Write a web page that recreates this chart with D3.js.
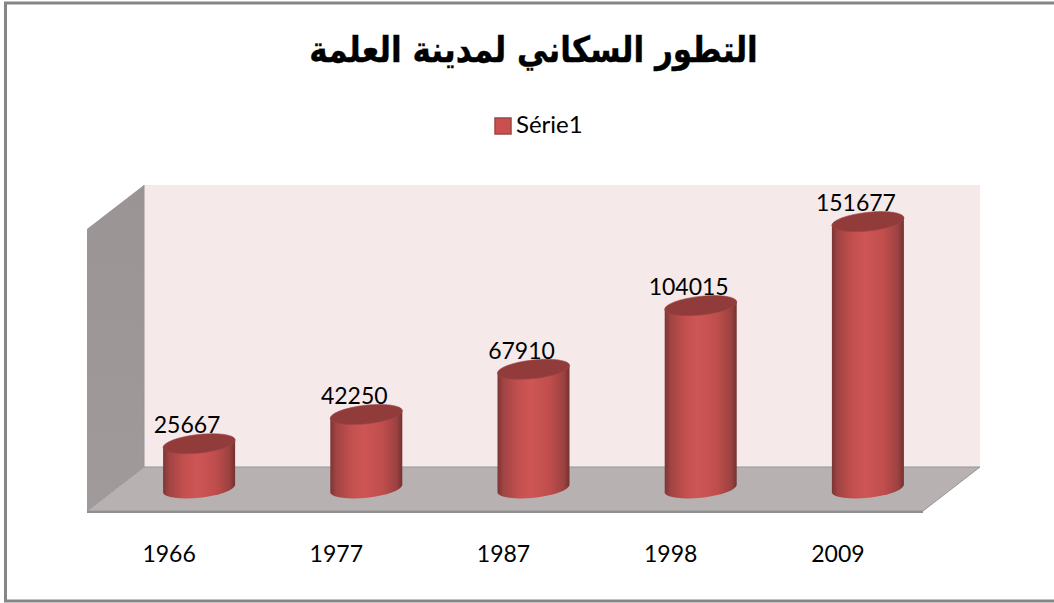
<!DOCTYPE html>
<html><head><meta charset="utf-8">
<script src="https://cdn.jsdelivr.net/npm/d3@7/dist/d3.min.js"></script>
<style>html,body{margin:0;padding:0;background:#fff}svg{display:block}</style>
</head><body><div id="c"></div>
<script>
const titleText = "التطور السكاني لمدينة العلمة";
const seriesName = "Série1";
const categories = ["1966","1977","1987","1998","2009"];
const values = [25667,42250,67910,104015,151677];
const W=1054,H=603;
const sans="Lato, 'Open Sans', sans-serif";
const svg=d3.select("#c").append("svg").attr("width",W).attr("height",H);
const defs=svg.append("defs");
const g=defs.append("linearGradient").attr("id","cyl");
[[0,"#7b3534"],[0.08,"#a04443"],[0.28,"#c24f4e"],[0.46,"#ce5655"],[0.72,"#c04e4d"],[0.92,"#9c4241"],[1,"#743130"]]
 .forEach(s=>g.append("stop").attr("offset",s[0]).attr("stop-color",s[1]));
const lw=defs.append("linearGradient").attr("id","wall").attr("x1",0).attr("x2",0).attr("y1",0).attr("y2",1);
lw.append("stop").attr("offset",0).attr("stop-color","#9a9494");
lw.append("stop").attr("offset",1).attr("stop-color","#a09a9a");

svg.append("rect").attr("x",5.5).attr("y",3).attr("width",1060).attr("height",598)
 .attr("fill","#fff").attr("stroke","#868686").attr("stroke-width",3);

const x0=87,x1=923,dx=57,dy=44,yFloor=511;
const x=d3.scaleBand().domain(categories).range([x0,x1]);
const y=d3.scaleLinear().domain([0,160000]).range([489,207]);
const wallTop=y(160000)-22, wallBottom=y(0)-22;

const line=d3.line();
svg.append("path").attr("d",line([[x0+dx,wallTop],[x1+dx,wallTop],[x1+dx,wallBottom],[x0+dx,wallBottom]])+"Z").attr("fill","#f5e9e9");
svg.append("path").attr("d",line([[x0,wallTop+dy],[x0+dx,wallTop],[x0+dx,wallBottom],[x0,yFloor]])+"Z").attr("fill","url(#wall)");
svg.append("path").attr("d",line([[x0+dx,wallBottom],[x1+dx,wallBottom],[x1,yFloor],[x0,yFloor]])+"Z").attr("fill","#b8b1b1");
svg.append("path").attr("d",line([[x0+dx,wallTop],[x0+dx,wallBottom],[x1+dx,wallBottom],[x1,yFloor],[x0,yFloor],[x0+dx,wallBottom]])).attr("fill","none").attr("stroke","#969696").attr("stroke-width",1);
svg.append("path").attr("d",line([[x0,yFloor+1],[x1,yFloor+1]])).attr("stroke","#8f8f8f").attr("stroke-width",2);

const off=28.5, rx=36, ry=9.3, tilt=4, rot=-6.3;
const cx=c=>x(c)+x.bandwidth()/2+off;
const bars=svg.append("g").selectAll("g").data(categories).join("g");
bars.append("path").attr("fill","url(#cyl)").attr("d",(c,i)=>{
  const l=cx(c)-rx,r=cx(c)+rx,t=y(values[i]),b=y(0);
  return `M${l},${t+tilt}L${l},${b+tilt}A${rx+.3},${ry} ${rot} 0 0 ${r},${b-tilt}L${r},${t-tilt}A${rx+.3},${ry} ${rot} 0 0 ${l},${t+tilt}Z`;
});
bars.append("ellipse").attr("cx",c=>cx(c)).attr("cy",(c,i)=>y(values[i])).attr("rx",rx+.3).attr("ry",ry)
 .attr("transform",(c,i)=>`rotate(${rot} ${cx(c)} ${y(values[i])})`).attr("fill","#913c3b").attr("stroke","#a04443").attr("stroke-width",.6);
bars.append("text").attr("x",c=>cx(c)-12).attr("y",(c,i)=>y(values[i])-10.5).attr("text-anchor","middle")
 .attr("font-family",sans).attr("font-size",23).attr("fill","#000").text((c,i)=>values[i]);

const axis=d3.axisBottom(x).tickSize(0).tickPadding(0);
const ax=svg.append("g").attr("transform","translate(-1.5,546)").call(axis);
ax.select(".domain").remove();
ax.selectAll("text").attr("font-family",sans).attr("font-size",23).attr("fill","#000");

svg.append("text").attr("transform","translate(533.5,62) scale(0.865,1)").attr("text-anchor","middle").attr("direction","rtl")
 .attr("font-family","'DejaVu Sans'").attr("font-weight","bold").attr("font-size",36).attr("fill","#000").attr("stroke","#000").attr("stroke-width",.4).text(titleText);
svg.append("rect").attr("x",495).attr("y",118).attr("width",16).attr("height",16).attr("fill","#c9504f").attr("stroke","#a04443").attr("stroke-width",1.5);
svg.append("text").attr("x",516).attr("y",133).attr("font-family",sans).attr("font-size",24).attr("fill","#000").text(seriesName);
</script></body></html>
